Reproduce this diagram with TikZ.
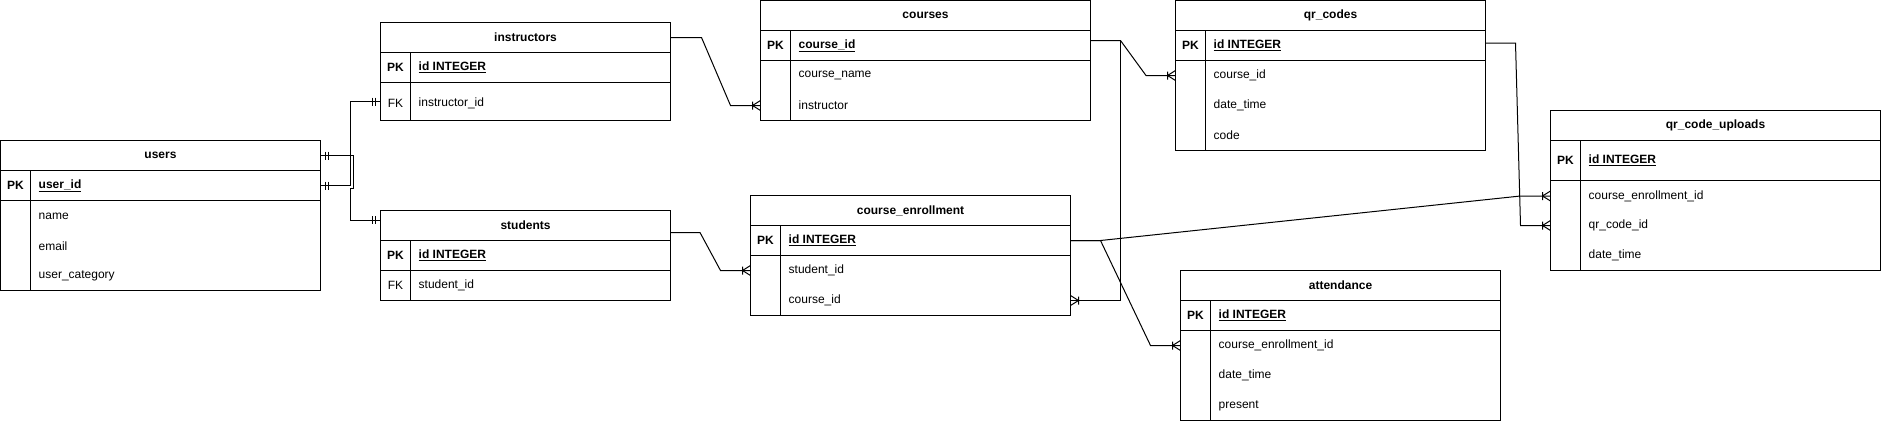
\documentclass[tikz,border=0pt]{standalone}
\usepackage{fontspec}
\setmainfont{Liberation Sans}
\usetikzlibrary{calc}
\tikzset{
  ln/.style={line width=1pt, line join=miter},
  hdr/.style={draw, line width=1pt, anchor=north west, inner sep=0pt, outer sep=0pt, minimum height=30pt,
    font=\fontsize{12}{14}\selectfont\bfseries},
  rowbox/.style={draw, line width=1pt, anchor=north west, inner sep=0pt, outer sep=0pt},
  keytxt/.style={inner sep=0pt, font=\fontsize{12}{14}\selectfont\bfseries},
  fktxt/.style={inner sep=0pt, font=\fontsize{12}{14}\selectfont},
  fld/.style={inner sep=0pt, anchor=west, font=\fontsize{12}{14}\selectfont},
  pkfld/.style={inner sep=0pt, anchor=west, font=\fontsize{12}{14}\selectfont\bfseries},
}
% #1 id, #2 x, #3 top, #4 width, #5 title, #6 pk height, #7 fields height, #8 pk field
\newcommand{\ertable}[8]{%
  \node[hdr, minimum width=#4pt] (#1) at (#2,#3) {#5};
  \node[rowbox, minimum width=#4pt, minimum height=#6pt] (#1-pk) at (#1.south west) {};
  \node[rowbox, minimum width=#4pt, minimum height=#7pt] (#1-f) at (#1-pk.south west) {};
  \draw[ln] ($(#1-pk.north west)+(30,0)$) -- ($(#1-f.south west)+(30,0)$);
  \node[keytxt] (#1-pkl) at ($(#1-pk.west)+(15,0)$) {PK};
  \node[pkfld] (#1-pkf) at ($(#1-pk.west)+(38,0)$) {\underline{#8}};
}
% #1 id, #2 row index name, #3 offset from fields top, #4 text
\newcommand{\erfield}[4]{%
  \node[fld] (#1-#2) at ($(#1-f.north west)+(38,#3)$) {#4};
}
% crow's foot with bar; #1 point, #2 signed offset (-8: entity to the right)
\newcommand{\crowfoot}[2]{%
  \draw[ln] ($(#1)+(#2,0)$) -- ($(#1)+(0,-5)$)
            ($(#1)+(#2,0)$) -- ($(#1)+(0,5)$)
            ($(#1)+(#2,-4)$) -- ($(#1)+(#2,4)$);
}
% mandatory one; #1 point, #2 signed offset
\newcommand{\mandone}[2]{%
  \draw[ln] ($(#1)+(#2,-4)$) -- ($(#1)+(#2,4)$)
            ($(#1)+(0.625*#2,-4)$) -- ($(#1)+(0.625*#2,4)$);
}
\begin{document}
\begin{tikzpicture}[x=1pt,y=-1pt]
\useasboundingbox (0,0) rectangle (1881,421);

% users
\ertable{users}{0.5}{140.5}{320}{users}{30}{90}{user\_id}
\erfield{users}{r1}{15.5}{name}
\erfield{users}{r2}{45.5}{email}
\erfield{users}{r3}{75}{user\_category}

% instructors
\ertable{instructors}{380.5}{22.5}{290}{instructors}{30}{38}{id INTEGER}
\node[fktxt] (instructors-fkl) at ($(instructors-f.west)+(15,1.5)$) {FK};
\node[fld] (instructors-r1) at ($(instructors-f.west)+(38,1.5)$) {instructor\_id};

% students
\ertable{students}{380.5}{210.5}{290}{students}{30}{30}{id INTEGER}
\node[fktxt] (students-fkl) at ($(students-f.west)+(15,0)$) {FK};
\node[fld] (students-r1) at ($(students-f.west)+(38,0)$) {student\_id};

% courses
\ertable{courses}{760.5}{0.5}{330}{courses}{30}{60}{course\_id}
\erfield{courses}{r1}{15}{course\_name}
\erfield{courses}{r2}{45}{instructor}

% course_enrollment
\ertable{ce}{750.5}{195.5}{320}{course\_enrollment}{30}{60}{id INTEGER}
\erfield{ce}{r1}{15}{student\_id}
\erfield{ce}{r2}{45}{course\_id}

% qr_codes
\ertable{qr}{1175.5}{0.5}{310}{qr\_codes}{30}{90}{id INTEGER}
\erfield{qr}{r1}{15}{course\_id}
\erfield{qr}{r2}{45}{date\_time}
\erfield{qr}{r3}{75}{code}

% attendance
\ertable{at}{1180.5}{270.5}{320}{attendance}{30}{90}{id INTEGER}
\erfield{at}{r1}{15}{course\_enrollment\_id}
\erfield{at}{r2}{45}{date\_time}
\erfield{at}{r3}{75}{present}

% qr_code_uploads
\ertable{qu}{1550.5}{110.5}{330}{qr\_code\_uploads}{40}{90}{id INTEGER}
\erfield{qu}{r1}{15.5}{course\_enrollment\_id}
\erfield{qu}{r2}{45}{qr\_code\_id}
\erfield{qu}{r3}{74.5}{date\_time}

% attachment points
\coordinate (in-fk) at (instructors-f.west);
\coordinate (st-in) at ($(students.west)+(0,-5.5)$);
\coordinate (st-out) at ($(students.east)+(0,7)$);
\coordinate (co-in) at (courses-r2 -| courses-f.west);
\coordinate (ce-st) at (ce-r1 -| ce-f.west);
\coordinate (co-out) at ($(courses-pk.east)+(0,-5)$);
\coordinate (qr-co) at (qr-r1 -| qr-f.west);
\coordinate (ce-co) at (ce-r2 -| ce-f.east);
\coordinate (qu-ce) at (qu-r1 -| qu-f.west);
\coordinate (at-ce) at (at-r1 -| at-f.west);
\coordinate (qr-out) at ($(qr-pk.east)+(0,-2.5)$);
\coordinate (qu-qr) at (qu-r2 -| qu-f.west);

% users -> instructors
\draw[ln] (users-pk.east) -- ++(30,0) |- (in-fk);
\mandone{users-pk.east}{8}
\mandone{in-fk}{-8}
% users -> students
\draw[ln] (users.east) -- ++(32.5,0) -- ++(0,33) -- ++(-2.5,0) |- (st-in);
\mandone{users.east}{8}
\mandone{st-in}{-8}
% instructors -> courses
\draw[ln] (instructors.east) -- ++(31,0) -- ($(co-in)+(-30,0)$) -- (co-in);
\crowfoot{co-in}{-8}
% students -> course_enrollment
\draw[ln] (st-out) -- ++(29.5,0) -- ($(ce-st)+(-30,0)$) -- (ce-st);
\crowfoot{ce-st}{-8}
% courses -> qr_codes
\draw[ln] (co-out) -- ++(30,0) -- ($(qr-co)+(-29.5,0)$) -- (qr-co);
\crowfoot{qr-co}{-8}
% course_enrollment.course_id -> courses
\draw[ln] (ce-co) -- ++(50,0) |- (co-out);
\crowfoot{ce-co}{8}
% course_enrollment -> qr_code_uploads
\draw[ln] (ce-pk.east) -- ++(30,0) -- ($(qu-ce)+(-30,0)$) -- (qu-ce);
\crowfoot{qu-ce}{-8}
% course_enrollment -> attendance
\draw[ln] (ce-pk.east) -- ++(30,0) -- ($(at-ce)+(-30,0)$) -- (at-ce);
\crowfoot{at-ce}{-8}
% qr_codes -> qr_code_uploads
\draw[ln] (qr-out) -- ++(30,0) -- ($(qu-qr)+(-30,0)$) -- (qu-qr);
\crowfoot{qu-qr}{-8}
\end{tikzpicture}
\end{document}
